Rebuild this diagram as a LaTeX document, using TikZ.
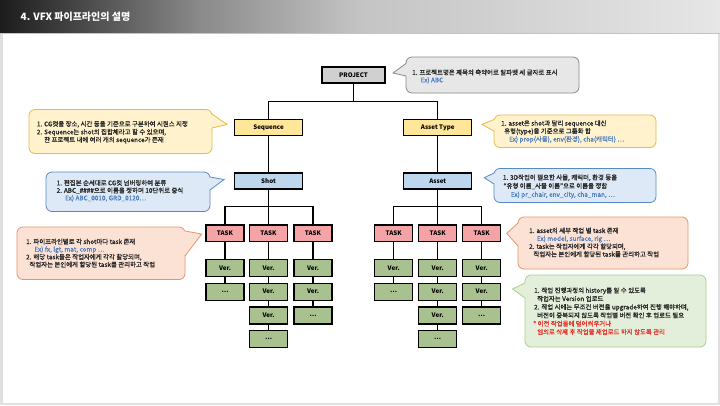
\documentclass[tikz,border=0pt]{standalone}
\usepackage{fontspec}
\setmainfont{Noto Sans CJK KR}
\newfontfamily\calfont[FakeBold=1]{Noto Sans CJK KR}
\usetikzlibrary{calc}
\definecolor{framec}{HTML}{E0E0E0}
\definecolor{tA}{HTML}{1C1C1C}
\definecolor{tB}{HTML}{8A8A8A}
\definecolor{tC}{HTML}{C4C4C4}
\definecolor{tD}{HTML}{E6E6E6}
\definecolor{projc}{HTML}{D0D0D0}
\definecolor{yelc}{HTML}{FFE699}
\definecolor{bluc}{HTML}{BDD7EE}
\definecolor{taskc}{HTML}{F4A4A6}
\definecolor{verc}{HTML}{A9C18F}
\definecolor{gfl}{HTML}{E7E7E7}\definecolor{gbd}{HTML}{8A8A8A}
\definecolor{yfl}{HTML}{FFF2CC}\definecolor{ybd}{HTML}{E9B949}
\definecolor{bfl}{HTML}{DDE9F6}\definecolor{bbd}{HTML}{5A8AC6}
\definecolor{sfl}{HTML}{FBE2D5}\definecolor{sbd}{HTML}{E5946A}
\definecolor{cfl}{HTML}{E3EFDA}\definecolor{cbd}{HTML}{A8D08D}
\definecolor{txtc}{HTML}{262626}
\definecolor{exc}{HTML}{4F7EC0}
\definecolor{redc}{HTML}{E8302A}
\tikzset{
 box/.style={draw=black, line width=1.2pt, minimum height=16pt, inner sep=1pt,
   font=\fontsize{6.2}{7}\selectfont\bfseries, text=black},
 taskbox/.style={box, fill=taskc, minimum width=38pt, minimum height=16.5pt},
 verbox/.style={box, fill=verc, minimum width=38pt, minimum height=17pt},
 conn/.style={line width=1.2pt},
 txt/.style={inner sep=0pt, font=\calfont\fontsize{6.4}{7}\selectfont, text=txtc},
 bgray/.style={draw=gbd, fill=gfl, line width=0.8pt},
 byel/.style={draw=ybd, fill=yfl, line width=0.8pt},
 bblue/.style={draw=bbd, fill=bfl, line width=0.8pt},
 bsal/.style={draw=sbd, fill=sfl, line width=0.8pt},
 bgrn/.style={draw=cbd, fill=cfl, line width=0.8pt},
}
% #1 style, #2 corner, #3 corner, #4 base1, #5 tip, #6 base2, #7 inward shift
\newcommand\bubble[7]{%
 \path[#1, rounded corners=6pt] (#2) rectangle (#3);
 \path[#1, draw=none] ([xshift=#7]#4) -- (#5) -- ([xshift=#7]#6) -- cycle;
 \path[#1, fill=none, line join=miter] (#4) -- (#5) -- (#6);
}
\newcommand\tl[4]{\node[txt, anchor=base west] (#1) at (#2,#3+2.3) {#4};}
\begin{document}
\begin{tikzpicture}[x=1pt,y=-1pt]
\useasboundingbox (0,0) rectangle (720,405);
% background
\fill[framec] (0,0) rectangle (720,405);
\fill[white] (2.5,33) rectangle (717.5,402.5);
% title bar
\shade[left color=tA, right color=tB] (0,0) rectangle (200,33);
\shade[left color=tB, right color=tC] (199.5,0) rectangle (360,33);
\shade[left color=tC, right color=tD] (359.5,0) rectangle (720,33);
\draw[tC, line width=1pt] (0,33.5) -- (720,33.5);
\node[anchor=west, text=white, inner sep=0pt, font=\fontsize{10}{12}\selectfont\bfseries] (title) at (20.5,16.5) {4. VFX 파이프라인의 설명};

% ---------- callouts ----------
\bubble{bgray}{406,57}{579,93}{406,63.5}{393,73}{406,76}{1.2pt}
\tl{g1}{412}{72.5}{1. 프로젝트명은 제목의 축약어로 알파벳 세 글자로 표시}
\tl{g2}{420.5}{80}{\color{exc}Ex) ABC}

\bubble{byel}{29,109.5}{212,153.5}{212,114}{227,124.5}{212,128}{-1.2pt}
\tl{y1}{36.7}{124}{1. CG컷을 장소, 시간 등을 기준으로 구분하여 시퀀스 지정}
\tl{y2}{36.7}{132}{2. Sequence는 shot의 집합체라고 할 수 있으며,}
\tl{y3}{44}{139.8}{한 프로젝트 내에 여러 개의 sequence가 존재}

\bubble{bblue}{46,172}{210,211.5}{210,177}{224,179.5}{210,190}{-1.2pt}
\tl{b1}{56.5}{183}{1. 편집본 순서대로 CG컷 넘버링하여 분류}
\tl{b2}{56.5}{190.5}{2. ABC\_\#\#\#\#으로 이름을 정하며 10단위로 증식}
\tl{b3}{65}{198}{\color{exc}Ex) ABC\_0010, GRD\_0120…}

\bubble{byel}{494,115}{656,147.5}{494,119.5}{482,124.5}{494,131}{1.2pt}
\tl{ya1}{501}{123.3}{1. asset은 shot과 달리 sequence 대신}
\tl{ya2}{504}{131.2}{유형(type)을 기준으로 그룹화 함}
\tl{ya3}{509}{139.2}{\color{exc}Ex) prop(사물), env(환경), cha(캐릭터) …}

\bubble{bblue}{494,168.5}{656,202.5}{494,173}{484.3,177.7}{494,184}{1.2pt}
\tl{ba1}{502.7}{177.5}{1. 3D작업이 필요한 사물, 캐릭터, 환경 등을}
\tl{ba2}{503.3}{186}{“유형 이름\_사물 이름”으로 이름을 정함}
\tl{ba3}{510.7}{194.5}{\color{exc}Ex) pr\_chair, env\_city, cha\_man, …}

\bubble{bsal}{17,227}{185,279.5}{185,231}{201.7,234}{185,256}{-1.2pt}
\tl{s1}{26}{241.7}{1. 파이프라인별로 각 shot마다 task 존재}
\tl{s2}{34.3}{249.3}{\color{exc}Ex) fx, lgt, mat, comp …}
\tl{s3}{26}{257}{2. 해당 task들은 작업자에게 각각 할당되며,}
\tl{s4}{29.3}{264.6}{작업자는 본인에게 할당된 task를 관리하고 작업}

\bubble{bsal}{518,217}{688,269}{518,223}{506.7,233.3}{518,246}{1.2pt}
\tl{sa1}{529}{230.7}{1. asset의 세부 작업 별 task 존재}
\tl{sa2}{536.7}{238.6}{\color{exc}Ex) model, surface, rig …}
\tl{sa3}{529}{246.5}{2. task는 작업자에게 각각 할당되며,}
\tl{sa4}{533.3}{254.3}{작업자는 본인에게 할당된 task를 관리하고 작업}

\bubble{bgrn}{525,275}{706,347}{525,283}{512.5,289}{525,298}{1.2pt}
\tl{c1}{534}{290.5}{1. 작업 진행과정의 history를 알 수 있도록}
\tl{c2}{537}{298.8}{작업자는 Version 업로드}
\tl{c3}{534}{307.1}{2. 작업 시에는 무조건  버전을 upgrade하여 진행 해야하며,}
\tl{c4}{537}{315.4}{버전이 중복되지 않도록 작업별 버전 확인 후 업로드 필요}
\tl{c5}{533}{323.7}{\color{redc}* 이전 작업물에 덮어씌우거나}
\tl{c6}{537}{332}{\color{redc}임의로 삭제 후 작업물 재업로드 하지 않도록 관리}

% ---------- tree ----------
\node[box, fill=projc, minimum width=63pt] (proj) at (353.5,75) {PROJECT};
\node[box, fill=yelc, minimum width=68pt] (seq) at (268.5,127.5) {Sequence};
\node[box, fill=yelc, minimum width=68pt] (at) at (437.7,127.5) {Asset Type};
\node[box, fill=bluc, minimum width=68pt] (shot) at (268.5,181) {Shot};
\node[box, fill=bluc, minimum width=68pt] (asset) at (437.7,181) {Asset};

\foreach \s/\xa/\xb/\xc in {l/225/268.5/313, r/393.7/437.7/481.7}{
  \node[taskbox] (\s t1) at (\xa,233.3) {TASK};
  \node[taskbox] (\s t2) at (\xb,233.3) {TASK};
  \node[taskbox] (\s t3) at (\xc,233.3) {TASK};
  \node[verbox] (\s 1a) at (\xa,267.8) {Ver.};
  \node[verbox] (\s 1b) at (\xa,291.6) {…};
  \node[verbox] (\s 2a) at (\xb,267.8) {Ver.};
  \node[verbox] (\s 2b) at (\xb,291.6) {Ver.};
  \node[verbox] (\s 2c) at (\xb,315.4) {Ver.};
  \node[verbox] (\s 2d) at (\xb,339.2) {…};
  \node[verbox] (\s 3a) at (\xc,267.8) {Ver.};
  \node[verbox] (\s 3b) at (\xc,291.6) {Ver.};
  \node[verbox] (\s 3c) at (\xc,315.4) {…};
  \draw[conn] (\s t1.south) -- (\s 1a.north);
  \draw[conn] (\s 1a.south) -- (\s 1b.north);
  \draw[conn] (\s t2.south) -- (\s 2a.north);
  \draw[conn] (\s 2a.south) -- (\s 2b.north);
  \draw[conn] (\s 2b.south) -- (\s 2c.north);
  \draw[conn] (\s 2c.south) -- (\s 2d.north);
  \draw[conn] (\s t3.south) -- (\s 3a.north);
  \draw[conn] (\s 3a.south) -- (\s 3b.north);
  \draw[conn] (\s 3b.south) -- (\s 3c.north);
}
\coordinate (pj) at (353.5,101.3);
\coordinate (lj) at (268.5,206.7);
\coordinate (rj) at (437.7,206.7);
\draw[conn] (proj.south) -- (pj);
\draw[conn] (seq.north) |- (pj) -| (at.north);
\draw[conn] (seq.south) -- (shot.north);
\draw[conn] (at.south) -- (asset.north);
\draw[conn] (shot.south) -- (lt2.north);
\draw[conn] (lt1.north) |- (lj) -| (lt3.north);
\draw[conn] (asset.south) -- (rt2.north);
\draw[conn] (rt1.north) |- (rj) -| (rt3.north);
\end{tikzpicture}
\end{document}
